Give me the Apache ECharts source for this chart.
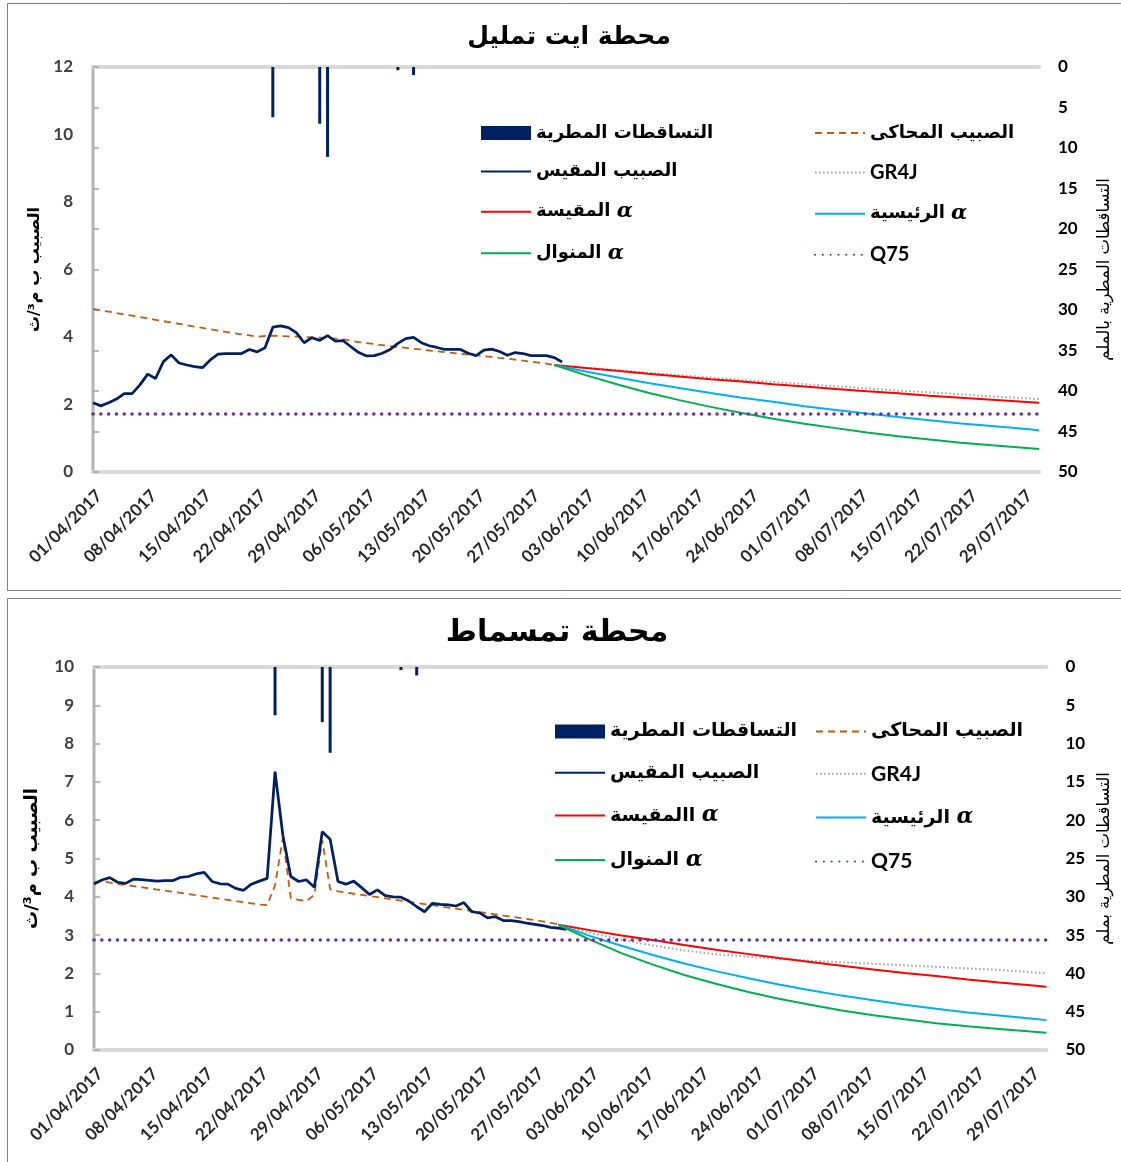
<!DOCTYPE html>
<html><head><meta charset="utf-8">
<script src="https://cdn.jsdelivr.net/npm/echarts@6/dist/echarts.min.js"></script>
<style>html,body{margin:0;padding:0;background:#fff}#c{width:1121px;height:1162px}</style>
</head><body><div id="c"></div>
<script>
// x positions are day indexes counted from 01/04/2017 (0) to 31/07/2017 (121)
const TICK_LABELS = ['01/04/2017','08/04/2017','15/04/2017','22/04/2017','29/04/2017','06/05/2017','13/05/2017','20/05/2017','27/05/2017','03/06/2017','10/06/2017','17/06/2017','24/06/2017','01/07/2017','08/07/2017','15/07/2017','22/07/2017','29/07/2017'];
const LAST_DAY = 121;
const RAIN_DAYS = [23, 29, 30, 39, 41];
const TOP_RAIN = [6.2, 7.0, 11.1, 0.4, 1.0];
const BOT_RAIN = [6.3, 7.2, 11.2, 0.4, 1.1];

// measured discharge, one value per day from day 0
const TOP_MEASURED = [2.05,1.96,2.05,2.16,2.32,2.32,2.58,2.90,2.77,3.27,
 3.47,3.23,3.17,3.12,3.09,3.32,3.49,3.51,3.51,3.51,
 3.63,3.56,3.68,4.29,4.33,4.28,4.13,3.83,3.98,3.90,
 4.04,3.88,3.89,3.71,3.54,3.44,3.45,3.52,3.63,3.81,
 3.95,3.99,3.83,3.74,3.69,3.63,3.63,3.63,3.52,3.45,
 3.61,3.64,3.57,3.46,3.54,3.51,3.45,3.45,3.45,3.39,3.26];
// simulated discharge, one value per day from day 0
const TOP_SIMULATED = [4.83,4.79,4.75,4.71,4.67,4.63,4.59,4.55,4.51,4.47,
 4.43,4.39,4.35,4.31,4.27,4.23,4.19,4.15,4.11,4.08,
 4.05,4.01,4.03,4.04,4.03,4.02,4.01,4.00,3.99,3.98,
 3.97,3.95,3.93,3.89,3.85,3.82,3.79,3.76,3.73,3.70,
 3.68,3.65,3.63,3.60,3.58,3.55,3.53,3.50,3.48,3.46,
 3.43,3.41,3.38,3.36,3.33,3.30,3.27,3.24,3.21,3.17];
const BOT_MEASURED = [4.33,4.44,4.50,4.38,4.35,4.46,4.45,4.43,4.41,4.42,
 4.42,4.51,4.53,4.60,4.64,4.40,4.34,4.33,4.22,4.17,
 4.33,4.41,4.48,7.27,5.60,4.53,4.40,4.44,4.25,5.70,
 5.50,4.40,4.33,4.41,4.24,4.06,4.18,4.03,4.00,3.99,
 3.89,3.74,3.61,3.83,3.80,3.79,3.76,3.85,3.61,3.58,
 3.45,3.48,3.38,3.38,3.35,3.31,3.28,3.25,3.20,3.18,3.15];
const BOT_SIMULATED = [4.38,4.42,4.37,4.34,4.31,4.28,4.25,4.22,4.19,4.16,
 4.13,4.10,4.07,4.04,4.01,3.98,3.95,3.92,3.89,3.86,
 3.83,3.80,3.78,4.30,5.55,3.96,3.92,3.89,4.05,5.48,
 4.20,4.14,4.11,4.08,4.05,4.02,3.99,3.96,3.93,3.90,
 3.87,3.84,3.81,3.78,3.75,3.72,3.69,3.66,3.63,3.60,
 3.57,3.54,3.51,3.48,3.45,3.42,3.39,3.36,3.32,3.28];

// forecast recessions, read at these days
const FORECAST_DAYS = [59,63,67,71,75,79,83,87,91,95,99,103,107,111,115,119,121];
const TOP_GR4J        = [3.17,3.09,3.02,2.94,2.87,2.80,2.73,2.67,2.60,2.54,2.48,2.41,2.36,2.30,2.24,2.19,2.16];
const TOP_ALPHA_MEAS  = [3.17,3.08,3.00,2.91,2.83,2.75,2.68,2.60,2.53,2.46,2.39,2.33,2.26,2.20,2.14,2.08,2.05];
const TOP_ALPHA_MAIN  = [3.17,2.98,2.81,2.64,2.49,2.34,2.20,2.08,1.95,1.84,1.73,1.63,1.53,1.44,1.36,1.28,1.24];
const TOP_ALPHA_MODE  = [3.17,2.87,2.60,2.35,2.13,1.93,1.75,1.58,1.43,1.30,1.17,1.06,0.96,0.87,0.79,0.72,0.68];
const BOT_GR4J        = [3.27,3.06,2.88,2.73,2.60,2.50,2.44,2.38,2.33,2.29,2.25,2.21,2.17,2.13,2.09,2.03,2.00];
const BOT_ALPHA_MEAS  = [3.27,3.13,2.99,2.87,2.74,2.62,2.51,2.40,2.30,2.20,2.10,2.01,1.93,1.84,1.76,1.69,1.65];
const BOT_ALPHA_MAIN  = [3.27,2.98,2.72,2.48,2.26,2.06,1.88,1.71,1.56,1.42,1.30,1.18,1.08,0.98,0.90,0.82,0.78];
const BOT_ALPHA_MODE  = [3.27,2.88,2.53,2.23,1.96,1.73,1.52,1.34,1.18,1.03,0.91,0.80,0.70,0.62,0.55,0.48,0.45];
const TOP_Q75 = 1.72;
const BOT_Q75 = 2.87;

const TOP_TITLE = 'محطة ايت تمليل';
const BOT_TITLE = 'محطة تمسماط';
const N_RAIN = 'التساقطات المطرية';
const N_MEAS = 'الصبيب المقيس';
const N_SIM = 'الصبيب المحاكى';
const N_GR4J = 'GR4J';
const N_RED_TOP = 'α المقيسة';
const N_RED_BOT = 'α االمقيسة';
const N_BLUE = 'α الرئيسية';
const N_GREEN = 'α المنوال';
const N_Q75 = 'Q75';
const Y_LEFT_NAME = 'الصبيب ب م³/ث';
const Y_RIGHT_TOP_NAME = 'التساقطات المطرية بالملم';
const Y_RIGHT_BOT_NAME = 'التساقطات المطرية بملم';

const NAVY = '#002060', ORANGE = '#C55A11', GRAY = '#A6A6A6', RED = '#FF0000', BLUE = '#00B0F0', GREEN = '#00B050', PURPLE = '#7030A0';
const AR = 'DejaVu Sans';
const NUM = 'Lato';

const pairs = (xs, ys) => xs.map((x, i) => [x, ys[i]]);
const daily = ys => ys.map((v, i) => [i, v]);

function panelSeries(g, d) {
  const xi = g * 2, yl = g * 2, yr = g * 2 + 1;
  const line = (name, data, color, width, type, cap) => ({
    type: 'line', name, xAxisIndex: xi, yAxisIndex: yl, data, symbol: 'none',
    lineStyle: { color, width, type, cap: cap || 'butt' }, itemStyle: { color }, silent: true
  });
  return [
    { type: 'bar', name: N_RAIN, xAxisIndex: xi, yAxisIndex: yr, data: pairs(RAIN_DAYS, d.rain), barWidth: 3, itemStyle: { color: NAVY } },
    line(N_SIM, daily(d.sim), ORANGE, 1.8, [7, 5]),
    line(N_MEAS, daily(d.meas), NAVY, 2.75, 'solid'),
    line(N_GR4J, pairs(FORECAST_DAYS, d.gr4j), GRAY, 2, [1.6, 2.4]),
    line(d.redName, pairs(FORECAST_DAYS, d.red), RED, 2, 'solid'),
    line(N_BLUE, pairs(FORECAST_DAYS, d.blue), BLUE, 2, 'solid'),
    line(N_GREEN, pairs(FORECAST_DAYS, d.green), GREEN, 2, 'solid'),
    line(N_Q75, [[0, d.q75], [LAST_DAY, d.q75]], PURPLE, 3.5, [0.1, 7.7], 'round')
  ];
}

function xAxes(g) {
  return [{
    type: 'value', gridIndex: g, min: 0, max: LAST_DAY, interval: 7,
    axisLine: { show: true, lineStyle: { color: '#D9D9D9', width: 4 } },
    axisTick: { show: false }, splitLine: { show: false },
    axisLabel: { rotate: 45, margin: 15, verticalAlign: 'top', align: 'right', fontFamily: NUM, fontWeight: 'bold', fontSize: 17, color: '#262626',
      formatter: v => (v % 7 === 0 && TICK_LABELS[v / 7]) ? TICK_LABELS[v / 7] : '' }
  }, {
    type: 'value', gridIndex: g, position: 'top', min: 0, max: LAST_DAY,
    axisLine: { show: true, lineStyle: { color: '#D9D9D9', width: 4 } },
    axisTick: { show: false }, splitLine: { show: false }, axisLabel: { show: false }
  }];
}
function yAxes(g, max, interval, leftName, rightName, leftGap, rightGap) {
  return [{
    type: 'value', gridIndex: g, position: 'left', min: 0, max, interval,
    axisLine: { show: true, lineStyle: { color: '#D9D9D9', width: 4 } },
    axisTick: { show: false }, splitLine: { show: false },
    axisLabel: { margin: 20, fontFamily: NUM, fontWeight: 'bold', fontSize: 17, color: '#404040' },
    name: Y_LEFT_NAME, nameLocation: 'middle', nameRotate: 90, nameGap: leftGap,
    nameTextStyle: { fontFamily: AR, fontWeight: 'bold', fontSize: leftName, color: '#000' }
  }, {
    type: 'value', gridIndex: g, position: 'right', min: 0, max: 50, interval: 5, inverse: true,
    axisLine: { show: true, lineStyle: { color: '#A6A6A6', width: 1.5 } },
    axisTick: { show: true, length: 6, lineStyle: { color: '#A6A6A6', width: 1.5 } },
    splitLine: { show: false },
    axisLabel: { margin: 19, fontFamily: NUM, fontWeight: 'bold', fontSize: 17, color: '#000' },
    name: rightName, nameLocation: 'middle', nameRotate: 90, nameGap: rightGap,
    nameTextStyle: { fontFamily: AR, fontWeight: 'normal', fontSize: 16.5, color: '#000' }
  }];
}

function makeRich(size) {
  return {
    t: { fontFamily: AR, fontWeight: 'bold', fontSize: size, color: '#000', lineHeight: 22 },
    a: { fontFamily: 'DejaVu Serif', fontStyle: 'italic', fontWeight: 'bold', fontSize: size + 3, color: '#000', lineHeight: 22 },
    l: { fontFamily: NUM, fontWeight: 'bold', fontSize: size + 2, color: '#000', lineHeight: 22 }
  };
}
function fmt(name) {
  if (name.indexOf('α ') === 0) return '{t|' + name.slice(2) + ' }{a|α}';
  if (/^[A-Z0-9]+$/.test(name)) return '{l|' + name + '}';
  return '{t|' + name + '}';
}
function legend(names, left, top, gap, size) {
  const data = names.map(n => n === N_RAIN ? { name: n, icon: 'rect', itemStyle: { opacity: 1 } } : { name: n, itemStyle: { opacity: 0 } });
  return {
    data, orient: 'vertical', left, top, itemWidth: 50, itemHeight: 14, itemGap: gap,
    selectedMode: false, formatter: fmt, textStyle: { rich: makeRich(size) }
  };
}

const chart = echarts.init(document.getElementById('c'), null, { renderer: 'canvas' });
chart.setOption({
  animation: false,
  backgroundColor: '#fff',
  grid: [
    { left: 93, right: 82, top: 67, height: 405 },
    { left: 94, right: 71, top: 667, height: 383 }
  ],
  xAxis: [].concat(xAxes(0), xAxes(1)),
  yAxis: [].concat(yAxes(0, 12, 2, 16, Y_RIGHT_TOP_NAME, 45, 57), yAxes(1, 10, 1, 18, Y_RIGHT_BOT_NAME, 53, 49)),
  legend: [
    legend([N_RAIN, N_MEAS, N_RED_TOP, N_GREEN], 475, 119, 20.6, 18),
    legend([N_SIM, N_GR4J, N_BLUE, N_Q75], 809, 119, 20.6, 18),
    legend([N_RAIN, N_MEAS, N_RED_BOT, N_GREEN], 549, 717, 22.3, 19),
    legend([N_SIM, N_GR4J, N_BLUE, N_Q75], 810, 717, 22.3, 19)
  ],
  graphic: [
    { type: 'rect', shape: { x: 7.5, y: 3.5, width: 1125, height: 587 }, style: { fill: 'none', stroke: '#7F7F7F', lineWidth: 1 }, silent: true },
    { type: 'rect', shape: { x: 7.5, y: 598.5, width: 1125, height: 580 }, style: { fill: 'none', stroke: '#7F7F7F', lineWidth: 1 }, silent: true },
    { type: 'text', x: 569, y: 37, style: { text: TOP_TITLE, fontFamily: AR, fontWeight: 'bold', fontSize: 25, fill: '#000', textAlign: 'center', textVerticalAlign: 'middle' } },
    { type: 'text', x: 557, y: 633, style: { text: BOT_TITLE, fontFamily: AR, fontWeight: 'bold', fontSize: 30, fill: '#000', textAlign: 'center', textVerticalAlign: 'middle' } }
  ],
  series: [].concat(
    panelSeries(0, { rain: TOP_RAIN, meas: TOP_MEASURED, sim: TOP_SIMULATED, gr4j: TOP_GR4J, red: TOP_ALPHA_MEAS, redName: N_RED_TOP, blue: TOP_ALPHA_MAIN, green: TOP_ALPHA_MODE, q75: TOP_Q75 }),
    panelSeries(1, { rain: BOT_RAIN, meas: BOT_MEASURED, sim: BOT_SIMULATED, gr4j: BOT_GR4J, red: BOT_ALPHA_MEAS, redName: N_RED_BOT, blue: BOT_ALPHA_MAIN, green: BOT_ALPHA_MODE, q75: BOT_Q75 })
  )
});
</script>
</body></html>
